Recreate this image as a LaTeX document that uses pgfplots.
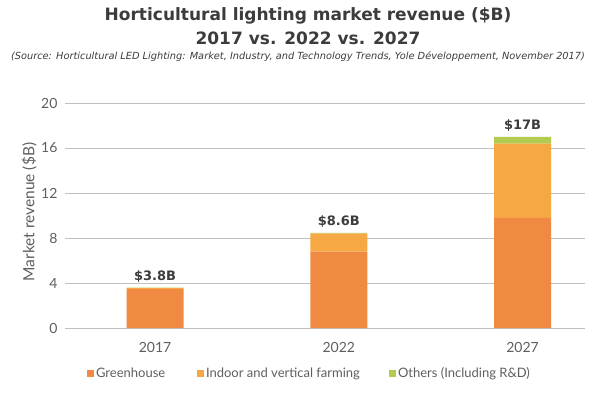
\documentclass[border=0pt]{standalone}
\usepackage{pgfplots}
\pgfplotsset{compat=1.18}
\usepackage{fontspec}
\setmainfont{Lato}
\newfontfamily\titlefont{DejaVu Sans}
\definecolor{greenhouse}{RGB}{240,138,66}
\definecolor{indoor}{RGB}{245,168,68}
\definecolor{others}{RGB}{178,204,80}
\definecolor{txt}{RGB}{95,95,95}
\definecolor{ttl}{RGB}{60,60,60}
\definecolor{grid}{RGB}{232,232,232}
\begin{document}
\begin{tikzpicture}
\useasboundingbox (-65pt,-69pt) rectangle (535pt,328pt);
\fill[white] (-65pt,-69pt) rectangle (535pt,328pt);
\node[font=\titlefont\bfseries\fontsize{17}{19}\selectfont, text=ttl] at (243pt,312pt) {Horticultural lighting market revenue (\$B)};
\node[font=\titlefont\bfseries\fontsize{17}{19}\selectfont, text=ttl] at (243pt,290pt) {2017 vs. 2022 vs. 2027};
\node[font=\titlefont\itshape\fontsize{9.8}{11}\selectfont, text=ttl] at (233pt,271pt) {(Source: Horticultural LED Lighting: Market, Industry, and Technology Trends, Yole Développement, November 2017)};
\begin{axis}[
  at={(0,0)}, anchor=south west,
  scale only axis, width=520pt, height=225pt,
  ybar stacked, bar width=0.31,
  xmin=-0.49, xmax=2.34, ymin=0, ymax=20,
  xtick={0,1,2}, xticklabels={2017,2022,2027},
  ytick={0,4,8,12,16,20},
  axis line style={draw=none},
  xtick style={draw=none}, ytick style={draw=none},
  xmajorgrids=false,
  ymajorgrids, grid style={grid, line width=1pt},
  /pgf/number format/assume math mode=true,
  ticklabel style={font=\fontsize{14}{16}\selectfont, text=txt},
  xticklabel style={yshift=-11pt},
  yticklabel style={xshift=-4pt},
  ylabel={Market revenue (\$B)},
  ylabel style={at={(axis description cs:-0.069,0.515)}, anchor=center, font=\fontsize{15.5}{17}\selectfont, text=txt},
  legend columns=3,
  legend style={draw=none, fill=none, at={(axis description cs:0.042,-0.2)}, anchor=west,
    font=\fontsize{13}{15}\selectfont, text=txt, inner sep=0pt,
    /tikz/every even column/.append style={column sep=0pt}},
  legend image code/.code={\fill[#1] (0pt,-3.5pt) rectangle (7pt,3.5pt);},
  clip=false,
]
\addplot[fill=greenhouse, draw=none] coordinates {(0,3.45) (1,6.8) (2,9.8)};
\addplot[fill=indoor, draw=none] coordinates {(0,0.1) (1,1.6) (2,6.6)};
\addplot[fill=others, draw=none] coordinates {(0,0.05) (1,0.05) (2,0.6)};
\legend{\makebox[99pt][l]{Greenhouse}, \makebox[181pt][l]{Indoor and vertical farming}, Others (Including R\&D)}
\node[anchor=south, font=\titlefont\bfseries\fontsize{13}{15}\selectfont, text=ttl] at (axis cs:0,3.6) [yshift=2pt] {\$3.8B};
\node[anchor=south, font=\titlefont\bfseries\fontsize{13}{15}\selectfont, text=ttl] at (axis cs:1,8.45) [yshift=2pt] {\$8.6B};
\node[anchor=south, font=\titlefont\bfseries\fontsize{13}{15}\selectfont, text=ttl] at (axis cs:2,17) [yshift=2pt] {\$17B};
\end{axis}
\end{tikzpicture}
\end{document}
